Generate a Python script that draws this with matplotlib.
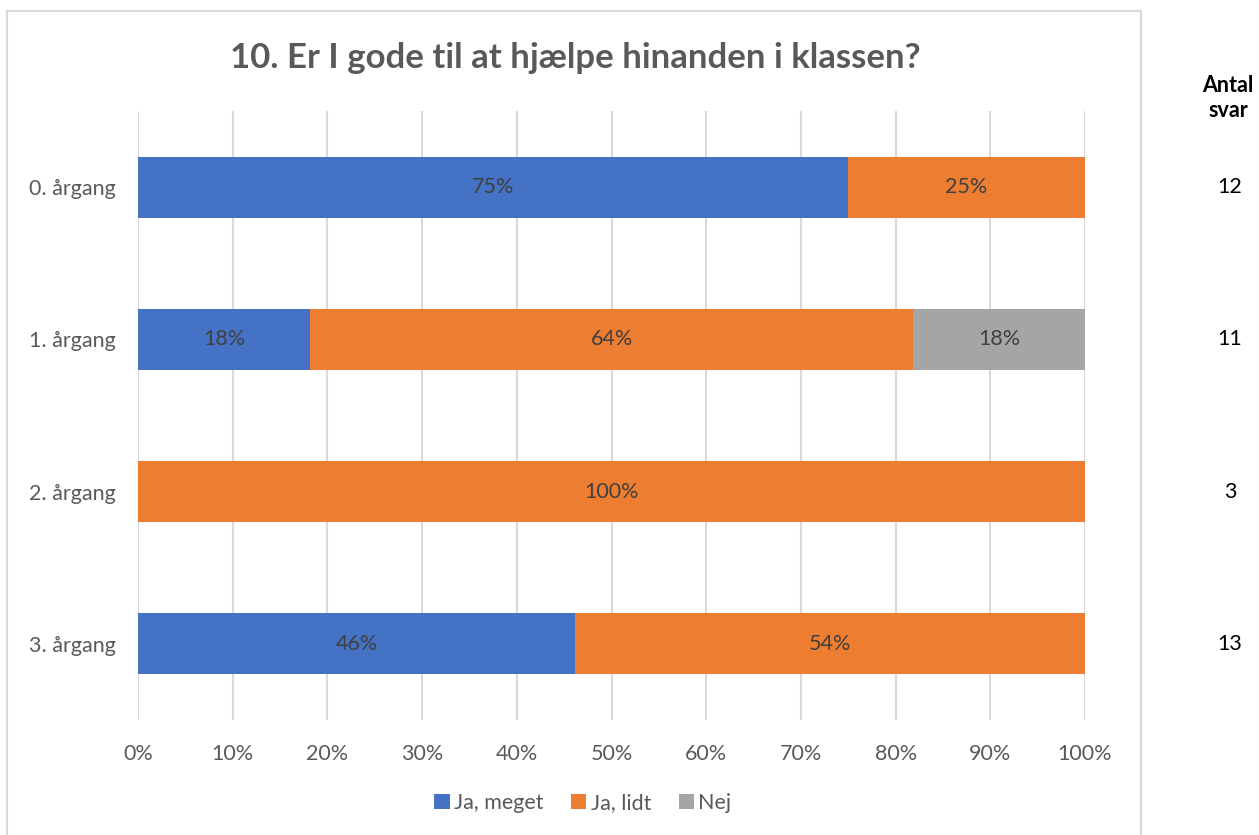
import matplotlib
matplotlib.use("Agg")
import matplotlib.pyplot as plt
from matplotlib.patches import Rectangle
import numpy as np

plt.rcParams['font.family'] = ['Lato', 'DejaVu Sans']

categories = ["0. årgang", "1. årgang", "2. årgang", "3. årgang"]
series_names = ["Ja, meget", "Ja, lidt", "Nej"]
ja_meget = [75.0, 18.18, 0.0, 46.15]
ja_lidt = [25.0, 63.64, 100.0, 53.85]
nej = [0.0, 18.18, 0.0, 0.0]
antal_svar = [12, 11, 3, 13]
colors = ["#4472C4", "#ED7D31", "#A5A5A5"]
xticks = list(range(0, 101, 10))
title = "10. Er I gode til at hjælpe hinanden i klassen?"

W, H = 1259, 835
fig = plt.figure(figsize=(W / 100, H / 100), dpi=100)
ax = fig.add_axes([138 / W, 1 - 720 / H, (1085 - 138) / W, (720 - 111) / H])

txt = "#595959"
fs = 15.5
y = np.arange(len(categories))
left = np.zeros(len(categories))
for vals, name, c in zip([ja_meget, ja_lidt, nej], series_names, colors):
    vals = np.array(vals)
    ax.barh(y, vals, left=left, height=0.4, color=c, label=name, zorder=3)
    for yi, (l, v) in enumerate(zip(left, vals)):
        if v > 0:
            ax.text(l + v / 2, yi, f"{v:.0f}%", ha="center", va="center",
                    fontsize=fs, color="#404040", zorder=4)
    left = left + vals

ax.set_ylim(len(categories) - 0.5, -0.5)
ax.set_xlim(0, 100)
ax.set_yticks(y)
ax.set_yticklabels(categories, fontsize=fs, color=txt)
ax.set_xticks(xticks)
ax.set_xticklabels([f"{t}%" for t in xticks], fontsize=fs, color=txt)
ax.tick_params(length=0, pad=16, axis="y")
ax.tick_params(length=0, pad=17, axis="x")
ax.grid(axis="x", color="#d9d9d9", linewidth=1.5, zorder=0)
for s in ax.spines.values():
    s.set_visible(False)

fig.text(575 / W, 1 - 58 / H, title, ha="center", va="center",
         fontsize=25, fontweight="bold", color=txt)

handles, labels = ax.get_legend_handles_labels()
leg = fig.legend(handles, labels, loc="center", bbox_to_anchor=(583 / W, 1 - 803 / H),
                 ncol=3, frameon=False, fontsize=fs, handlelength=0.7, handleheight=0.7,
                 handletextpad=0.2, columnspacing=1.3)
for t in leg.get_texts():
    t.set_color(txt)

fig.text(1228 / W, 1 - 98 / H, "Antal\nsvar", ha="center", va="center",
         fontsize=fs, fontweight="bold", color="#000000", linespacing=1.2)
for yi, n in enumerate(antal_svar):
    ycen = 111 + (yi + 0.5) * (720 - 111) / len(categories)
    fig.text(1230 / W, 1 - ycen / H, str(n), ha="center", va="center",
             fontsize=fs, color="#000000")

fig.patches.append(Rectangle((7 / W, -0.05), (1141 - 7) / W, 1 - 11 / H + 0.05,
                             transform=fig.transFigure, fill=False,
                             edgecolor="#d9d9d9", linewidth=1.5))

fig.savefig("out.png", dpi=100)
